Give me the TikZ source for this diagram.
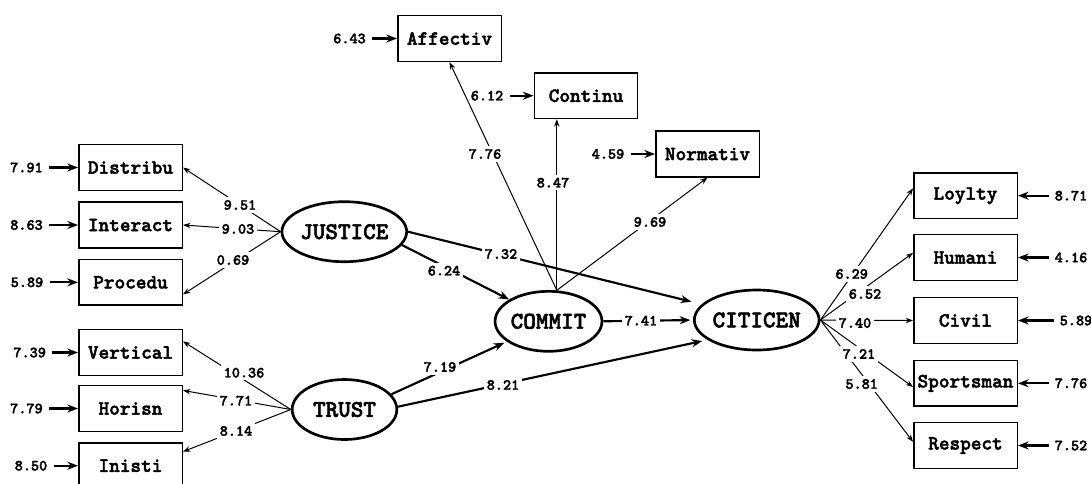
\documentclass[tikz,border=0pt]{standalone}
\usepackage{fontspec}
\newfontfamily\courbf{lmmonolt10-bold}[Extension=.otf, FakeBold=2.2]
\usetikzlibrary{shapes.geometric, arrows.meta}
\tikzset{>=stealth}

\begin{document}
\begin{tikzpicture}[x=0.75pt, y=-0.75pt,
    obs/.style={draw, line width=1.1pt, minimum width=77.6pt, minimum height=34.2pt, inner sep=1pt, font=\courbf\fontsize{15.2}{16}\selectfont},
    lat/.style={draw, ellipse, line width=2pt, minimum width=78.5pt, minimum height=45pt, inner sep=0pt, font=\courbf\fontsize{18}{18}\selectfont},
    num/.style={inner sep=1pt, font=\courbf\fontsize{11.6}{12}\selectfont},
    lab/.style={num, fill=white, inner sep=2pt},
    load/.style={-{Stealth[length=5.5pt, width=4pt]}, line width=0.75pt},
    struct/.style={-{Stealth[length=8pt, width=6pt]}, line width=1.6pt},
    err/.style={-{Stealth[length=8pt, width=6pt]}, line width=1.6pt, shorten <=3.5pt}]
    \useasboundingbox (0,0) rectangle (1091,483);
    \node[lat] (JUSTICE) at (344.3,231.7) {JUSTICE};
    \node[lat] (TRUST) at (344.5,409.5) {TRUST};
    \node[lat] (COMMIT) at (548.5,321.3) {COMMIT};
    \node[lat] (CITICEN) at (756.7,320) {CITICEN};
    \foreach \n/\y/\e/\ex in {Distribu/167.5/7.91/26.5, Interact/225/8.63/26.5, Procedu/282.3/5.89/27, Vertical/352.5/7.39/29.7, Horisn/408.5/7.79/26.5, Inisti/465.7/8.50/31}
    {
    \node[obs] (\n) at (130.5,\y) {\n};
    \node[num] (e\n) at (\ex,\y) {\e};
    \draw[err] (e\n) -- (\n);
    }
    \foreach \n/\x/\y/\e/\ex in {Affectiv/449.5/38.5/6.43/349.5, Continu/586/95.7/6.12/487, Normativ/707.5/154/4.59/608}
    {
    \node[obs] (\n) at (\x,\y) {\n};
    \node[num] (e\n) at (\ex,\y) {\e};
    \draw[err] (e\n) -- (\n);
    }
    \foreach \n/\y/\e/\ex in {Loylty/195.7/8.71/1071, Humani/257.5/4.16/1071, Civil/320.5/5.89/1076, Sportsman/383.3/7.76/1071, Respect/445.5/7.52/1071}
    {
    \node[obs] (\n) at (965.5,\y) {\n};
    \node[num] (e\n) at (\ex,\y) {\e};
    \draw[err] (e\n) -- (\n);
    }
    \draw[load] (JUSTICE.west) -- (Distribu.east);
    \draw[load] (JUSTICE.west) -- (Interact.east);
    \draw[load] (JUSTICE.west) -- (Procedu.-13);
    \draw[load] (TRUST.west) -- (Vertical.12);
    \draw[load] (TRUST.west) -- (Horisn.19);
    \draw[load] (TRUST.west) -- (Inisti.15);
    \draw[load] (COMMIT.75) -- (Affectiv.south);
    \draw[load] (COMMIT.75) -- (COMMIT.75 |- Continu.south);
    \draw[load] (COMMIT.75) -- (Normativ.south);
    \foreach \n/\a in {Loylty/172, Humani/175, Civil/180, Sportsman/184, Respect/176}
    \draw[load] (CITICEN.east) -- (\n.\a);
    \draw[struct] (JUSTICE.-13) -- (COMMIT.151);
    \draw[struct, shorten >=8pt] (JUSTICE.east) -- (CITICEN.164);
    \draw[struct, shorten >=2pt] (COMMIT.east) -- (CITICEN.west);
    \draw[struct, shorten >=2pt] (TRUST.18) -- (COMMIT.206);
    \draw[struct, shorten >=4pt] (TRUST.3) -- (CITICEN.202);
    \foreach \t/\x/\y [count=\i] in {9.51/240/205, 9.03/238/229, 0.69/233/260, 10.36/244/372.7, 7.71/236/400.7, 8.14/236/431, 7.76/485/154, 8.47/553/182.7, 9.69/650/222, 7.32/501/254, 6.24/444/270.7, 7.41/641/320.7, 7.19/440/367, 8.21/503/385, 6.29/851.7/274, 6.52/865/294, 7.40/855/323, 7.21/859/354, 5.81/861.7/384}
    \node[lab] (lab\i) at (\x,\y) {\t};
\end{tikzpicture}
\end{document}
